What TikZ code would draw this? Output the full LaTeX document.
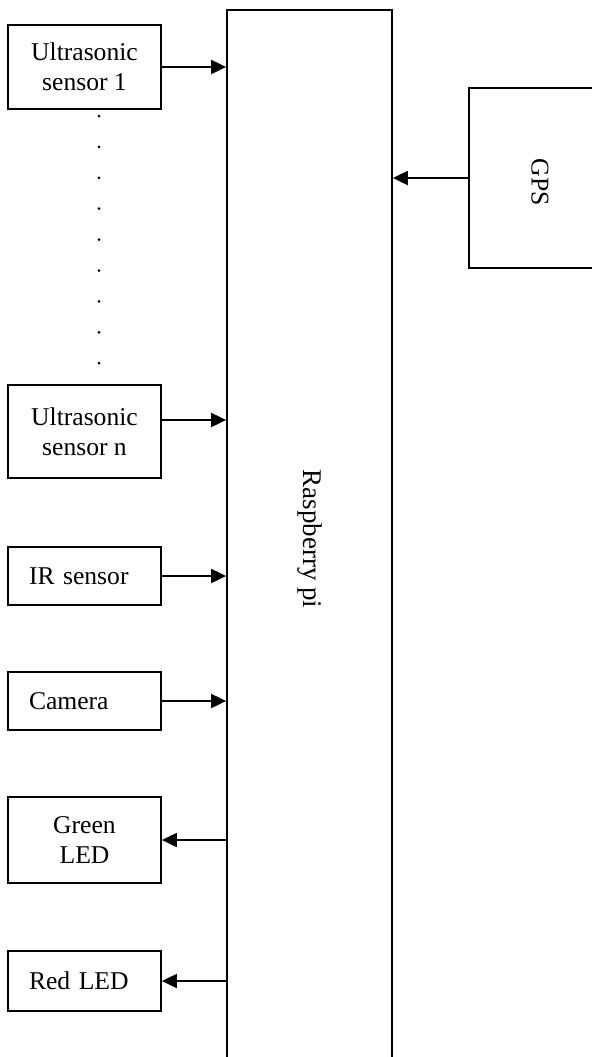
\documentclass[tikz,border=0pt]{standalone}
\usepackage{fontspec}
\setmainfont{Liberation Serif}
\usetikzlibrary{arrows.meta}

\begin{document}
\begin{tikzpicture}[x=0.5pt, y=-0.5pt, line width=0.9pt,
    font=\fontsize{12.8}{15}\selectfont,
    unitbox/.style={rectangle, draw, inner sep=0pt, minimum width=76.5pt, align=center},
    leftbox/.style={rectangle, draw, inner ysep=0pt, inner xsep=10.5pt, text width=55.5pt, align=left},
    sig/.style={line width=1pt, -{Triangle[length=7.5pt, width=7pt]}}]
  \useasboundingbox (0,0) rectangle (591,1057);

  % --- Controller ---
  \node[rectangle, draw, inner sep=0pt, minimum width=82.5pt, minimum height=532.5pt] (rpi) at (309.5,542.5) {};
  \node[rotate=-90, font=\fontsize{13.5}{15}\selectfont] (rpilabel) at (310,539) {Raspberry pi};

  % --- GPS (right) ---
  \node[rectangle, draw, inner sep=0pt, minimum width=70.5pt, minimum height=90pt] (gps) at (539.5,178) {};
  \node[rotate=-90] (gpslabel) at (540,182) {GPS};
  \draw[sig] (gps.west) -- (gps.west -| rpi.east);

  % --- Inputs (left) ---
  \node[unitbox, minimum height=42pt] (us1) at (84.5,67) {Ultrasonic\\sensor 1};
  \foreach \k in {0,...,8}
    \fill (99,{116+30.9*\k}) circle (1.5);
  \node[unitbox, minimum height=46.5pt] (usn) at (84.5,431.5) {Ultrasonic\\sensor n};
  \node[leftbox, minimum height=29pt] (ir) at (84.5,576) {IR sensor};
  \node[leftbox, minimum height=29pt] (cam) at (84.5,701) {Camera};
  \coordinate (usnout) at ([yshift=5.75pt]usn.east);
  \draw[sig] (us1.east) -- (us1.east -| rpi.west);
  \draw[sig] (usnout) -- (usnout -| rpi.west);
  \draw[sig] (ir.east) -- (ir.east -| rpi.west);
  \draw[sig] (cam.east) -- (cam.east -| rpi.west);

  % --- Outputs (left) ---
  \node[unitbox, minimum height=43pt] (green) at (84.5,840) {Green\\LED};
  \node[leftbox, minimum height=30pt] (red) at (84.5,981) {Red LED};
  \draw[sig] (green.east -| rpi.west) -- (green.east);
  \draw[sig] (red.east -| rpi.west) -- (red.east);
\end{tikzpicture}
\end{document}
